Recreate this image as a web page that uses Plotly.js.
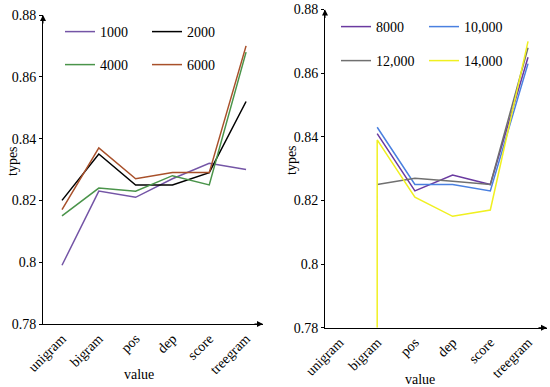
<!DOCTYPE html>
<html>
<head>
<meta charset="utf-8">
<script src="https://cdn.plot.ly/plotly-3.0.1.min.js"></script>
<style>html,body{margin:0;padding:0;background:#fff;}#chart{width:550px;height:387px;}</style>
</head>
<body>
<div id="chart"></div>
<script>
const categories = ['unigram', 'bigram', 'pos', 'dep', 'score', 'treegram'];
// left panel series
const leftNames = ['1000', '2000', '4000', '6000'];
const s1000 = [0.799, 0.823, 0.821, 0.827, 0.832, 0.830];
const s2000 = [0.820, 0.835, 0.825, 0.825, 0.829, 0.852];
const s4000 = [0.815, 0.824, 0.823, 0.828, 0.825, 0.868];
const s6000 = [0.817, 0.837, 0.827, 0.829, 0.829, 0.870];
// right panel series
const rightNames = ['8000', '10,000', '12,000', '14,000'];
const rightX = ['bigram', 'pos', 'dep', 'score', 'treegram'];
const s8000 = [0.841, 0.823, 0.828, 0.825, 0.865];
const s10000 = [0.843, 0.825, 0.825, 0.823, 0.863];
const s12000 = [0.825, 0.827, 0.826, 0.825, 0.868];
const x14000 = ['bigram', 'bigram', 'pos', 'dep', 'score', 'treegram'];
const s14000 = [0.780, 0.839, 0.821, 0.815, 0.817, 0.870];
const yTicks = [0.78, 0.8, 0.82, 0.84, 0.86, 0.88];
const yTickText = ['0.78', '0.8', '0.82', '0.84', '0.86', '0.88'];
const xTitle = 'value';
const yTitle = 'types';

const FONT = '"Times New Roman", "Liberation Serif", Tinos, serif';
const colors = ['#7455a6', '#000000', '#4a944a', '#a8502a', '#6a3aa0', '#4a80e0', '#707070', '#f0f020'];

function tr(x, y, name, color, xa, ya, lg) {
  return {x: x, y: y, name: name, type: 'scatter', mode: 'lines',
    line: {color: color, width: 1.5}, xaxis: xa, yaxis: ya, legend: lg, cliponaxis: true};
}
const traces = [
  tr(categories, s1000, leftNames[0], colors[0], 'x', 'y', 'legend'),
  tr(categories, s2000, leftNames[1], colors[1], 'x', 'y', 'legend2'),
  tr(categories, s4000, leftNames[2], colors[2], 'x', 'y', 'legend3'),
  tr(categories, s6000, leftNames[3], colors[3], 'x', 'y', 'legend4'),
  tr(rightX, s8000, rightNames[0], colors[4], 'x2', 'y2', 'legend5'),
  tr(rightX, s10000, rightNames[1], colors[5], 'x2', 'y2', 'legend6'),
  tr(rightX, s12000, rightNames[2], colors[6], 'x2', 'y2', 'legend7'),
  tr(x14000, s14000, rightNames[3], colors[7], 'x2', 'y2', 'legend8')
];

function xax(domain, range, anchor) {
  return {domain: domain, anchor: anchor, type: 'category', categoryorder: 'array', categoryarray: categories,
    range: range, showline: true, linecolor: '#000', linewidth: 1, showgrid: false, zeroline: false,
    ticks: '', tickangle: -45, tickfont: {family: FONT, size: 14, color: '#000'}};
}
function yax(domain, anchor) {
  return {domain: domain, anchor: anchor, range: [0.78, 0.88], tickvals: yTicks, ticktext: yTickText,
    showline: true, linecolor: '#000', linewidth: 1, showgrid: false, zeroline: false,
    ticks: 'outside', ticklen: 3, tickcolor: '#000',
    tickfont: {family: FONT, size: 14, color: '#000'}};
}
function lg(x, y) {
  return {x: x, y: y, xanchor: 'left', yanchor: 'middle', bgcolor: 'rgba(0,0,0,0)', borderwidth: 0,
    font: {family: FONT, size: 14, color: '#000'}, itemwidth: 30};
}
function arrow(xref, yref, x, y, ax, ay) {
  return {xref: xref, yref: yref, x: x, y: y, ax: ax, ay: ay, axref: 'pixel', ayref: 'pixel',
    text: '', showarrow: true, arrowhead: 2, arrowsize: 1.2, arrowwidth: 1, arrowcolor: '#000'};
}
const W = 550, H = 387;
function title(text, px, py, angle) {
  return {xref: 'paper', yref: 'paper', x: px / W, y: 1 - py / H, xanchor: 'center', yanchor: 'middle',
    text: text, showarrow: false, textangle: angle, font: {family: FONT, size: 14, color: '#000'}};
}

const layout = {
  width: W, height: H, margin: {l: 0, r: 0, t: 0, b: 0},
  paper_bgcolor: '#fff', plot_bgcolor: 'rgba(0,0,0,0)', showlegend: true,
  font: {family: FONT, color: '#000'},
  xaxis: xax([43 / W, 263 / W], [-0.516, 5.46], 'y'),
  yaxis: yax([1 - 324 / H, 1 - 15 / H], 'x'),
  xaxis2: xax([325 / W, 547 / W], [-0.384, 5.503], 'y2'),
  yaxis2: yax([1 - 327.7 / H, 1 - 9.5 / H], 'x2'),
  legend: lg(60 / W, 1 - 32 / H),
  legend2: lg(147 / W, 1 - 32 / H),
  legend3: lg(60 / W, 1 - 65 / H),
  legend4: lg(147 / W, 1 - 65 / H),
  legend5: lg(336 / W, 1 - 27 / H),
  legend6: lg(424 / W, 1 - 27 / H),
  legend7: lg(336 / W, 1 - 61 / H),
  legend8: lg(424 / W, 1 - 61 / H),
  annotations: [
    arrow('x domain', 'y domain', 1, 0, -10, 0),
    arrow('x domain', 'y domain', 0, 1, 0, 10),
    arrow('x2 domain', 'y2 domain', 1, 0, -10, 0),
    arrow('x2 domain', 'y2 domain', 0, 1, 0, 10),
    title(xTitle, 138.5, 374, 0),
    title(xTitle, 419.5, 379, 0),
    title(yTitle, 12, 161, -90),
    title(yTitle, 292, 160, -90)
  ]
};
Plotly.newPlot('chart', traces, layout, {displayModeBar: false, staticPlot: true});
</script>
</body>
</html>
